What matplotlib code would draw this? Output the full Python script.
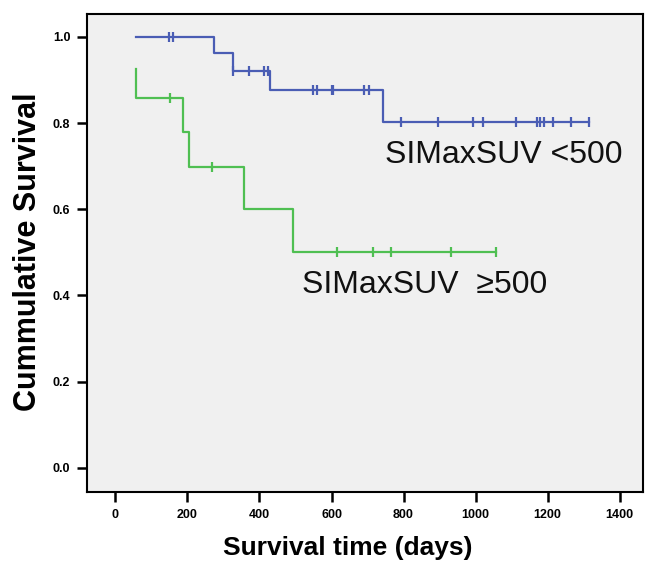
import numpy as np
import matplotlib
matplotlib.use("Agg")
import matplotlib.pyplot as plt

# Kaplan-Meier curves
# SIMaxSUV < 500
t_lo = [57, 274, 327, 429, 744, 1316]
s_lo = [1.0, 0.962, 0.921, 0.877, 0.803, 0.803]
cens_lo = [149, 160, 327, 372, 412, 424, 548, 561, 600, 604, 691, 704,
           792, 897, 994, 1022, 1112, 1170, 1179, 1191, 1216, 1264, 1316]

# SIMaxSUV >= 500
t_hi = [57, 57, 188, 205, 358, 492, 1057]
s_hi = [0.926, 0.857, 0.780, 0.699, 0.600, 0.500, 0.500]
cens_hi = [151, 267, 614, 714, 765, 931, 1057]

xticks = [0, 200, 400, 600, 800, 1000, 1200, 1400]
yticks = [0.0, 0.2, 0.4, 0.6, 0.8, 1.0]

blue = "#4a5db4"
green = "#4fbf52"

plt.rcParams["font.family"] = ["Liberation Sans", "DejaVu Sans"]


def surv_at(times, surv, c):
    # value of the step function just after time c
    idx = np.searchsorted(times, c, side="right") - 1
    return np.array(surv)[idx]


fig = plt.figure(figsize=(6.47, 5.66), dpi=100)
ax = fig.add_axes([87 / 647, 74 / 566, 556 / 647, 478 / 566])
ax.set_facecolor("#f0f0f0")

for t, s, c, col in [(t_lo, s_lo, cens_lo, blue), (t_hi, s_hi, cens_hi, green)]:
    ax.plot(t, s, drawstyle="steps-post", color=col, lw=1.6)
    ax.plot(c, surv_at(t, s, c), ls="none", marker="|", ms=7,
            mew=1.6, color=col)

ax.text(749, 0.726, "SIMaxSUV <500", fontsize=23, va="center", ha="left",
        color="#111111")
ax.text(518, 0.425, "SIMaxSUV  ≥500", fontsize=23, va="center", ha="left",
        color="#111111")

ax.set_xlim(-79, 1465)
ax.set_ylim(-0.056, 1.053)
ax.set_xticks(xticks)
ax.set_yticks(yticks)
ax.set_xticklabels([str(v) for v in xticks], fontsize=9, fontweight="bold")
ax.set_yticklabels([f"{v:.1f}" for v in yticks], fontsize=9, fontweight="bold")
ax.tick_params(direction="out", length=7, width=1.8, pad=5)
for sp in ax.spines.values():
    sp.set_linewidth(1.5)
    sp.set_color("black")

fig.text(348 / 647, 1 - 548 / 566, "Survival time (days)", fontsize=19,
         fontweight="bold", ha="center", va="center")
fig.text(28 / 647, 1 - 252 / 566, "Cummulative Survival", fontsize=22,
         fontweight="bold", ha="center", va="center", rotation=90)

fig.savefig("out.png", dpi=100, facecolor="white")
